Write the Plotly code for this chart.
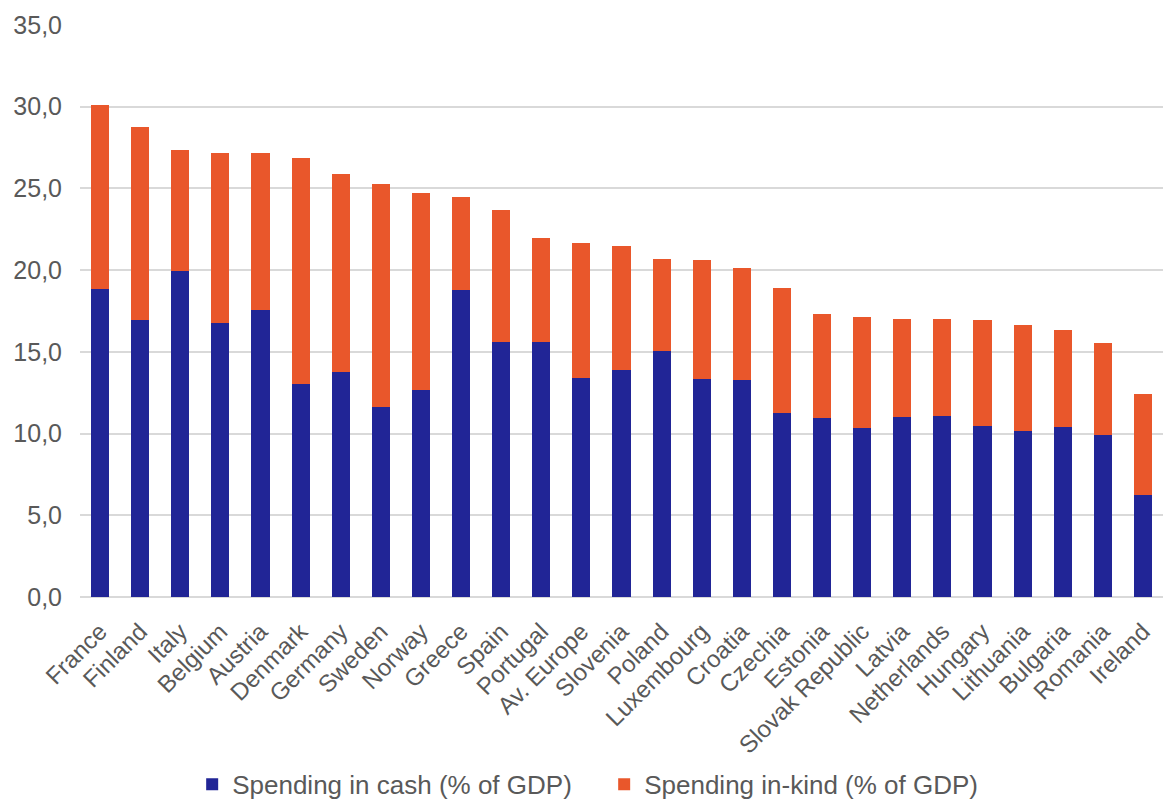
import plotly.graph_objects as go

countries = ["France", "Finland", "Italy", "Belgium", "Austria", "Denmark", "Germany", "Sweden",
             "Norway", "Greece", "Spain", "Portugal", "Av. Europe", "Slovenia", "Poland",
             "Luxembourg", "Croatia", "Czechia", "Estonia", "Slovak Republic", "Latvia",
             "Netherlands", "Hungary", "Lithuania", "Bulgaria", "Romania", "Ireland"]
total = [30.1, 28.76, 27.36, 27.17, 27.15, 26.87, 25.89, 25.28, 24.72, 24.48, 23.68, 21.97,
         21.66, 21.48, 20.69, 20.62, 20.13, 18.91, 17.32, 17.14, 17.01, 17.01, 16.95, 16.65,
         16.34, 15.54, 12.42]
cash = [18.85, 16.95, 19.95, 16.77, 17.56, 13.04, 13.77, 11.63, 12.67, 18.79, 15.61, 15.61,
        13.40, 13.89, 15.05, 13.34, 13.28, 11.26, 10.95, 10.34, 11.02, 11.08, 10.47, 10.16,
        10.40, 9.91, 6.24]
inkind = [round(t - c, 2) for t, c in zip(total, cash)]

fig = go.Figure()
fig.add_trace(go.Bar(x=countries, y=cash, name="Spending in cash (% of GDP)",
                     marker=dict(color="#212596", line=dict(width=0))))
fig.add_trace(go.Bar(x=countries, y=inkind, name="Spending in-kind (% of GDP)",
                     marker=dict(color="#E9572B", line=dict(width=0))))

fig.update_layout(
    barmode="stack",
    bargap=0.55,
    width=1165, height=802,
    margin=dict(l=80, r=2, t=25, b=205, autoexpand=False),
    plot_bgcolor="white", paper_bgcolor="white",
    separators=",.",
    font=dict(family="Liberation Sans, Arial, sans-serif", color="#595959", size=24),
    legend=dict(orientation="h", x=0.484, xanchor="center", yref="container",
                y=0.022, yanchor="middle",
                font=dict(size=26, color="#595959"), traceorder="normal",
                itemwidth=30, entrywidth=367),
    showlegend=True,
)
fig.update_yaxes(range=[0, 35], dtick=5, tickformat=".1f", showgrid=True,
                 gridcolor="#D9D9D9", gridwidth=2, zeroline=True, zerolinecolor="#D9D9D9",
                 zerolinewidth=2, showline=False, ticks="outside", ticklen=12, tickcolor="white",
                 tickfont=dict(size=25, color="#595959"))
fig.update_xaxes(tickangle=-45, showline=False, ticks="outside", ticklen=10, tickcolor="white",
                 tickfont=dict(size=24, color="#595959"))

fig.write_html("out.html")
